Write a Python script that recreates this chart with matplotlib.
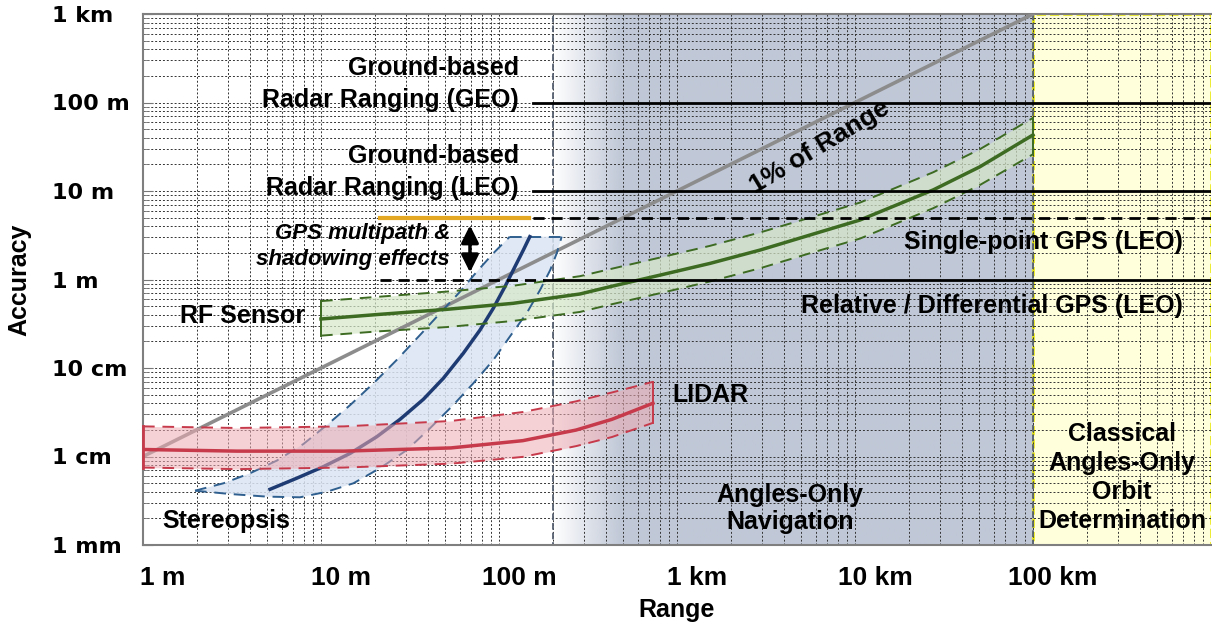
import numpy as np
import matplotlib
matplotlib.use('Agg')
import matplotlib.pyplot as plt
from matplotlib.ticker import LogLocator, NullFormatter
from matplotlib.transforms import ScaledTranslation

plt.rcParams['font.family'] = ['Liberation Sans', 'DejaVu Sans']

# axes (all values in metres)
X_TICKS = [1, 10, 100, 1e3, 1e4, 1e5]
X_TICK_LABELS = ['1 m', '10 m', '100 m', '1 km', '10 km', '100 km']
Y_TICKS = [1e-3, 1e-2, 1e-1, 1, 10, 100, 1e3]
Y_TICK_LABELS = ['1 mm', '1 cm', '10 cm', '1 m', '10 m', '100 m', '1 km']

# regions
ANGLES_ONLY = [200, 1e5]
CLASSICAL = [1e5, 1e6]

# 1% of range
PCT_RANGE = [1, 1e5]
PCT_ACC = [0.01, 1e3]

# RF sensor band
RF_RANGE = [10, 21.4, 50.8, 120, 285, 421, 802, 1532, 2926, 5585, 10670, 27540, 50350, 100000]
RF_MID = [0.358, 0.404, 0.46, 0.538, 0.686, 0.83, 1.12, 1.52, 2.15, 3.18, 4.7, 10.3, 18.8, 43]
RF_HI = [0.57, 0.64, 0.73, 0.85, 1.09, 1.31, 1.77, 2.4, 3.4, 5.0, 7.4, 16.3, 29.7, 67]
RF_LO = [0.232, 0.26, 0.29, 0.34, 0.43, 0.52, 0.70, 0.95, 1.34, 1.98, 2.9, 6.4, 11.7, 26]

# LIDAR band
LIDAR_RANGE = [1, 3.37, 13.5, 53.7, 136, 271, 431, 733]
LIDAR_MID = [0.0120, 0.0115, 0.0115, 0.0125, 0.0151, 0.0199, 0.0263, 0.040]
LIDAR_HI = [0.0219, 0.0210, 0.0219, 0.0252, 0.0318, 0.042, 0.0529, 0.0698]
LIDAR_LO = [0.0075, 0.0072, 0.0075, 0.0083, 0.0099, 0.0131, 0.0166, 0.024]

# stereopsis band
STEREO_MID_R = [5.17, 7.30, 10.3, 14.6, 20.6, 27.8, 37.6, 48.7, 63.0, 78.2, 92.9, 108, 123, 137, 149]
STEREO_MID_A = [0.00426, 0.00568, 0.00767, 0.01086, 0.01675, 0.0263, 0.0443, 0.0766, 0.1466,
                0.2685, 0.473, 0.83, 1.40, 2.15, 3.05]
STEREO_UL_R = [1.96, 2.83, 3.99, 5.64, 7.96, 10.8, 14.6, 19.7, 26.6, 36.0, 46.6, 60.4, 74.9, 92.9, 115]
STEREO_UL_A = [0.00411, 0.00498, 0.00646, 0.00898, 0.01383, 0.0227, 0.0382, 0.0671, 0.123,
               0.236, 0.415, 0.728, 1.22, 1.98, 3.05]
STEREO_LR_R = [1.96, 3.08, 4.95, 7.62, 10.8, 15.2, 21.4, 30.3, 41.0, 55.4, 71.7, 92.9, 115, 143,
               170, 194, 211, 225]
STEREO_LR_A = [0.00411, 0.00377, 0.00352, 0.00346, 0.0040, 0.00498, 0.00736, 0.0118, 0.0209,
               0.0382, 0.0671, 0.123, 0.226, 0.415, 0.760, 1.28, 1.98, 3.05]

# reference accuracy levels
GEO_RADAR = 100
LEO_RADAR = 10
GPS_SINGLE = 5
GPS_REL = 1
RADAR_START = 155
GPS_START = 21.4
MULTIPATH_END = 147
REL_SOLID_START = 180
ARROW_R = 68.7
ARROW_TOP = 4.4
ARROW_BOT = 1.12

X_MIN, X_MAX = 1, 1e6
Y_MIN, Y_MAX = 1e-3, 1e3

GREEN = '#3d6b22'
BLUE = '#1f3b73'
BLUE_DASH = '#2f5f8f'
RED = '#c63a4b'
DASH = (0, (6, 4))
BOLD = dict(fontweight='bold', fontsize=18)

fig = plt.figure(figsize=(12.12, 6.23), dpi=100)
ax = fig.add_axes([143 / 1212, 78 / 623, 1068 / 1212, 531 / 623])
ax.set_xscale('log')
ax.set_yscale('log')


def axes_frac(v):
    return np.log10(v / X_MIN) / np.log10(X_MAX / X_MIN)


# background regions (angles-only fades in from white)
ramp = np.linspace(0, 1, 400)
grad = np.zeros((1, 400, 4))
grad[..., :3] = matplotlib.colors.to_rgb('#c0c8d7')
grad[0, :, 3] = np.clip(ramp / 0.14, 0, 1)
ax.imshow(grad, extent=[axes_frac(ANGLES_ONLY[0]), axes_frac(ANGLES_ONLY[1]), 0, 1],
          transform=ax.transAxes, aspect='auto', zorder=0, interpolation='bilinear')
ax.axvspan(*ANGLES_ONLY, facecolor='none', edgecolor='#556070', ls='--', lw=1.3, zorder=1)
ax.axvspan(*CLASSICAL, facecolor='#ffffdc', edgecolor='#e6e600', ls='--', lw=1.8, zorder=0)

ax.set_xlim(X_MIN, X_MAX)
ax.set_ylim(Y_MIN, Y_MAX)

# grid
ax.xaxis.set_minor_locator(LogLocator(base=10, subs=np.arange(2, 10)))
ax.yaxis.set_minor_locator(LogLocator(base=10, subs=np.arange(2, 10)))
ax.xaxis.set_minor_formatter(NullFormatter())
ax.yaxis.set_minor_formatter(NullFormatter())
ax.set_axisbelow(True)
ax.grid(True, which='both', color='#333333', ls=(0, (2, 2)), lw=0.7, zorder=0.5)

# 1% of range
ax.plot(PCT_RANGE, PCT_ACC, color='#8c8c8c', lw=2.6, zorder=3)

# reference levels
ax.plot([RADAR_START, X_MAX], [GEO_RADAR, GEO_RADAR], color='black', lw=2, zorder=4)
ax.plot([RADAR_START, X_MAX], [LEO_RADAR, LEO_RADAR], color='black', lw=2, zorder=4)
ax.plot([GPS_START, MULTIPATH_END], [GPS_SINGLE, GPS_SINGLE], color='#e5a823', lw=3, zorder=4)
ax.plot([RADAR_START, X_MAX], [GPS_SINGLE, GPS_SINGLE], color='black', lw=2, ls=(0, (4, 2.5)), zorder=4)
ax.plot([GPS_START, REL_SOLID_START], [GPS_REL, GPS_REL], color='black', lw=2, ls=(0, (4, 2.5)), zorder=4)
ax.plot([REL_SOLID_START, X_MAX], [GPS_REL, GPS_REL], color='black', lw=2, zorder=4)
ax.annotate('', xy=(ARROW_R, ARROW_TOP), xytext=(ARROW_R, ARROW_BOT),
            arrowprops=dict(arrowstyle='<|-|>', color='black', lw=2.5, mutation_scale=26), zorder=5)

# stereopsis band
ax.fill(np.r_[STEREO_UL_R, STEREO_LR_R[::-1]], np.r_[STEREO_UL_A, STEREO_LR_A[::-1]],
        color='#dae5f3', alpha=0.85, lw=0, zorder=2)
ax.plot(STEREO_UL_R, STEREO_UL_A, color=BLUE_DASH, lw=1.4, ls=DASH, zorder=3)
ax.plot(STEREO_LR_R, STEREO_LR_A, color=BLUE_DASH, lw=1.4, ls=DASH, zorder=3)
ax.plot([STEREO_UL_R[-1], STEREO_LR_R[-1]], [STEREO_UL_A[-1], STEREO_LR_A[-1]],
        color=BLUE_DASH, lw=1.4, ls=DASH, zorder=3)
ax.plot(STEREO_MID_R, STEREO_MID_A, color=BLUE, lw=2.5, zorder=3)

# RF sensor band
ax.fill_between(RF_RANGE, RF_LO, RF_HI, color='#d6e8c8', alpha=0.7, lw=0, zorder=2)
ax.plot(RF_RANGE, RF_HI, color=GREEN, lw=1.4, ls=DASH, zorder=3)
ax.plot(RF_RANGE, RF_LO, color=GREEN, lw=1.4, ls=DASH, zorder=3)
ax.plot([RF_RANGE[0]] * 2, [RF_LO[0], RF_HI[0]], color=GREEN, lw=1.4, zorder=3)
ax.plot([RF_RANGE[-1]] * 2, [RF_LO[-1], RF_HI[-1]], color=GREEN, lw=1.4, zorder=3)
ax.plot(RF_RANGE, RF_MID, color=GREEN, lw=2.5, zorder=3)

# LIDAR band
ax.fill_between(LIDAR_RANGE, LIDAR_LO, LIDAR_HI, color='#eeaab2', alpha=0.55, lw=0, zorder=3.5)
ax.plot(LIDAR_RANGE, LIDAR_HI, color=RED, lw=1.4, ls=DASH, zorder=3.6)
ax.plot(LIDAR_RANGE, LIDAR_LO, color=RED, lw=1.4, ls=DASH, zorder=3.6)
ax.plot([LIDAR_RANGE[-1]] * 2, [LIDAR_LO[-1], LIDAR_HI[-1]], color=RED, lw=1.4, zorder=3.6)
ax.plot([LIDAR_RANGE[0]] * 2, [LIDAR_LO[0], LIDAR_HI[0]], color=RED, lw=2, zorder=3.6, clip_on=False)
ax.plot(LIDAR_RANGE, LIDAR_MID, color=RED, lw=2.5, zorder=3.6)

# labels
ax.text(129, 162, 'Ground-based\nRadar Ranging (GEO)', ha='right', va='center',
        linespacing=1.45, zorder=6, **BOLD)
ax.text(129, 16.4, 'Ground-based\nRadar Ranging (LEO)', ha='right', va='center',
        linespacing=1.45, zorder=6, **BOLD)
ax.text(53, 2.36, 'GPS multipath &\nshadowing effects', ha='right', va='center',
        fontsize=16, fontweight='bold', fontstyle='italic', linespacing=1.3, zorder=6)
ax.text(6355, 31.4, '1% of Range', rotation=31, ha='center', va='center', zorder=6,
        fontweight='bold', fontsize=19)
ax.text(697e3, 2.65, 'Single-point GPS (LEO)', ha='right', va='center', zorder=6, **BOLD)
ax.text(697e3, 0.503, 'Relative / Differential GPS (LEO)', ha='right', va='center', zorder=6, **BOLD)
ax.text(1.615, 0.387, 'RF Sensor', ha='left', va='center', zorder=6, **BOLD)
ax.text(1.28, 0.00187, 'Stereopsis', ha='left', va='center', zorder=6, **BOLD)
ax.text(937, 0.0495, 'LIDAR', ha='left', va='center', zorder=6, **BOLD)
ax.text(4315, 0.00259, 'Angles-Only\nNavigation', ha='center', va='center', zorder=6, **BOLD)
ax.text(316e3, 0.00579, 'Classical\nAngles-Only\nOrbit\nDetermination', ha='center', va='center',
        linespacing=1.26, zorder=6, **BOLD)

# ticks
ax.set_xticks(X_TICKS, X_TICK_LABELS)
ax.set_yticks(Y_TICKS, Y_TICK_LABELS)
ax.tick_params(axis='x', which='both', length=0, pad=15, labelsize=19)
ax.tick_params(axis='y', which='major', direction='in', length=7, pad=65.5, labelsize=16, color='#777777')
ax.tick_params(axis='y', which='minor', direction='in', length=4, color='#777777')
for lab in ax.get_xticklabels():
    lab.set_fontweight('bold')
    lab.set_transform(lab.get_transform() + ScaledTranslation(0.2, 0, fig.dpi_scale_trans))
for lab in ax.get_yticklabels():
    lab.set_fontweight('bold')
    lab.set_family('DejaVu Sans')
    lab.set_horizontalalignment('left')

ax.set_xlabel('Range', fontsize=18, fontweight='bold', labelpad=6)
ax.set_ylabel('Accuracy', fontsize=18, fontweight='bold', labelpad=15)

for side in ['left', 'bottom', 'top']:
    ax.spines[side].set_color('#7f7f7f')
    ax.spines[side].set_linewidth(1.5)
ax.spines['right'].set_visible(False)

fig.savefig('out.png', dpi=100)
